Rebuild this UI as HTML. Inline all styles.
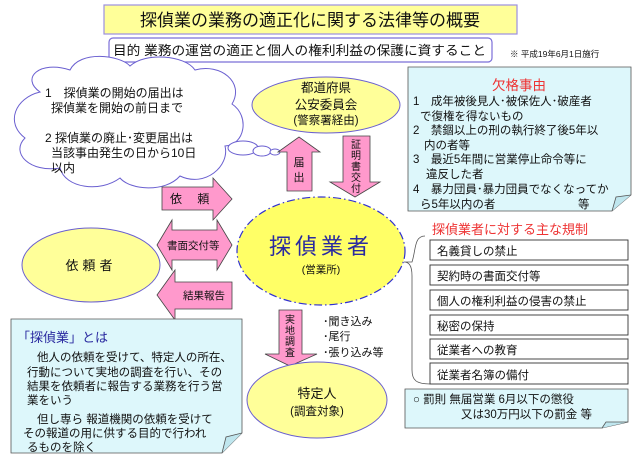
<!DOCTYPE html>
<html><head><meta charset="utf-8"><style>
body{margin:0;background:#fff;width:640px;height:457px;overflow:hidden}
svg{display:block}
text{font-family:"Liberation Sans","Noto Sans CJK JP",sans-serif;fill:#111}
</style></head><body>
<svg width="640" height="457" viewBox="0 0 640 457" xmlns="http://www.w3.org/2000/svg">
<!-- title -->
<rect x="104" y="5" width="413" height="29" fill="#ffff99" stroke="#9b8fe0" stroke-width="1.2"/>
<text x="310" y="26" font-size="17" text-anchor="middle">探偵業の業務の適正化に関する法律等の概要</text>
<rect x="109" y="38" width="383" height="24" rx="4" fill="#fff" stroke="#7b6fd8" stroke-width="1.2"/>
<text x="113" y="55" font-size="13" textLength="373" lengthAdjust="spacingAndGlyphs">目的  業務の運営の適正と個人の権利利益の保護に資すること</text>
<text x="510" y="57" font-size="8.5">※  平成19年6月1日施行</text>

<!-- cloud -->
<g fill="#fff" stroke="#6a5fd0" stroke-width="1">
<path d="M40,92 C20,78 40,60 70,70 C80,50 120,55 130,66 C145,52 185,55 195,70 C220,63 245,82 232,104 C250,116 245,145 225,146 C230,166 205,188 180,176 C165,193 130,190 120,178 C100,193 65,188 60,168 C30,173 10,153 25,138 C5,123 15,98 40,92 Z"/>
<ellipse cx="243" cy="148" rx="15" ry="7"/>
<ellipse cx="262" cy="151" rx="9" ry="5"/>
<ellipse cx="275" cy="152" rx="5" ry="3"/>
</g>
<g font-size="12">
<text x="45" y="97">1　探偵業の開始の届出は</text>
<text x="51" y="112">探偵業を開始の前日まで</text>
<text x="45" y="142">2  探偵業の廃止･変更届出は</text>
<text x="51" y="157">当該事由発生の日から10日</text>
<text x="51" y="172">以内</text>
</g>

<!-- police -->
<ellipse cx="326" cy="105" rx="74" ry="28" fill="#ffff99" stroke="#6a5fd0" stroke-width="1"/>
<g font-size="12.5" text-anchor="middle">
<text x="326" y="92">都道府県</text>
<text x="326" y="109">公安委員会</text>
<text x="326" y="124" font-size="11.5">(警察署経由)</text>
</g>

<!-- arrows -->
<g fill="#ff99cc" stroke="#444" stroke-width="0.8">
<path d="M287,191 L287,152 L278,152 L299,137 L320,152 L312,152 L312,191 Z"/>
<path d="M343,136 L370,136 L370,182 L380,182 L355,197 L330,182 L343,182 Z"/>
<path d="M162,187 L213,187 L213,178 L232,199 L213,220 L213,210 L162,210 Z"/>
<path d="M157,245 L172,220 L172,230 L217,230 L217,220 L232,245 L217,270 L217,260 L172,260 L172,270 Z"/>
<path d="M157,295 L175,270 L175,282 L232,282 L232,309 L175,309 L175,320 Z"/>
<path d="M279,310 L302,310 L302,354 L317,354 L290,366 L265,354 L279,354 Z"/>
</g>
<g font-size="11">
<text x="299" y="166" text-anchor="middle">届</text>
<text x="299" y="181" text-anchor="middle">出</text>
<g font-size="10" text-anchor="middle">
<text x="356" y="148">証</text><text x="356" y="159">明</text><text x="356" y="170">書</text><text x="356" y="181">交</text><text x="356" y="192">付</text>
<text x="290" y="323">実</text><text x="290" y="334">地</text><text x="290" y="345">調</text><text x="290" y="356">査</text>
</g>
<text x="170" y="203" font-size="12">依　 頼</text>
<text x="167" y="249" font-size="10.5">書面交付等</text>
<text x="183" y="299" font-size="10.5">結果報告</text>
</g>

<!-- central -->
<ellipse cx="321" cy="251" rx="84" ry="54" fill="#ffff66" stroke="#3030d0" stroke-width="1.2" stroke-dasharray="8,3,1.5,3"/>
<text x="321" y="254" font-size="22" text-anchor="middle" style="fill:#2a2aa0" letter-spacing="4">探偵業者</text>
<text x="321" y="273" font-size="10.5" text-anchor="middle">(営業所)</text>

<ellipse cx="91" cy="265" rx="69" ry="37" fill="#ffff99" stroke="#6a5fd0"/>
<text x="91" y="270" font-size="13" text-anchor="middle" letter-spacing="4">依頼者</text>

<ellipse cx="317" cy="400" rx="70" ry="38" fill="#ffff99" stroke="#6a5fd0"/>
<text x="317" y="398" font-size="13" text-anchor="middle">特定人</text>
<text x="317" y="415" font-size="11.5" text-anchor="middle">(調査対象)</text>

<g font-size="11">
<text x="323" y="325">･聞き込み</text>
<text x="323" y="340">･尾行</text>
<text x="323" y="356">･張り込み等</text>
</g>

<!-- definition box -->
<path d="M11,319 L242,319 L242,433 L222,453 L11,453 Z" fill="#ddf7fb" stroke="#555" stroke-width="0.8"/>
<path d="M222,453 L226,437 L242,433" fill="#bfe6ee" stroke="#555" stroke-width="0.8"/>
<text x="17" y="342" font-size="13" style="fill:#2a2aa0">「探偵業」とは</text>
<g font-size="11.5">
<text x="37" y="361">他人の依頼を受けて、特定人の所在、</text>
<text x="27" y="376">行動について実地の調査を行い、その</text>
<text x="27" y="390">結果を依頼者に報告する業務を行う営</text>
<text x="27" y="404">業をいう</text>
<text x="37" y="423">但し専ら 報道機関の依頼を受けて</text>
<text x="23" y="437">その報道の用に供する目的で行われ</text>
<text x="27" y="451">るものを除く</text>
</g>

<!-- 欠格事由 -->
<path d="M408,67 L631,67 L631,195 L612,211 L408,211 Z" fill="#ddf7fb" stroke="#555" stroke-width="0.8"/>
<path d="M612,211 L616,197 L631,195" fill="#bfe6ee" stroke="#555" stroke-width="0.8"/>
<text x="519" y="90" font-size="13.5" text-anchor="middle" style="fill:#ee3333">欠格事由</text>
<g font-size="11.5">
<text x="413" y="105">1　成年被後見人･被保佐人･破産者</text>
<text x="420" y="120">で復権を得ないもの</text>
<text x="413" y="134">2　禁錮以上の刑の執行終了後5年以</text>
<text x="424" y="149">内の者等</text>
<text x="413" y="163">3　最近5年間に営業停止命令等に</text>
<text x="426" y="178">違反した者</text>
<text x="413" y="193">4　暴力団員･暴力団員でなくなってか</text>
<text x="420" y="208">ら5年以内の者</text>
<text x="578" y="208">等</text>
</g>

<!-- regulations -->
<text x="432" y="234" font-size="13" style="fill:#ee3333">探偵業者に対する主な規制</text>
<path d="M425,236 C414,236 416,250 412,262 C408,262 408,262 404,262 C408,262 412,264 412,276 L412,370 C412,380 416,384 430,384" fill="none" stroke="#555" stroke-width="0.8"/>
<g fill="#fff" stroke="#333" stroke-width="0.9">
<rect x="430" y="240" width="198" height="20"/>
<rect x="430" y="265" width="198" height="20"/>
<rect x="430" y="290" width="198" height="20"/>
<rect x="430" y="315" width="198" height="20"/>
<rect x="430" y="339" width="198" height="20"/>
<rect x="430" y="363" width="198" height="21"/>
</g>
<g font-size="11.5">
<text x="437" y="255">名義貸しの禁止</text>
<text x="437" y="280">契約時の書面交付等</text>
<text x="437" y="305">個人の権利利益の侵害の禁止</text>
<text x="437" y="330">秘密の保持</text>
<text x="437" y="354">従業者への教育</text>
<text x="437" y="379">従業者名簿の備付</text>
</g>
<path d="M405,389 L628,389 L628,422 L602,428 L405,428 Z" fill="#ddf7fb" stroke="#555" stroke-width="0.8"/>
<path d="M602,428 L606,422 L628,422" fill="#bfe6ee" stroke="#555" stroke-width="0.8"/>
<g font-size="11.5">
<text x="413" y="403">○  罰則  無届営業  6月以下の懲役</text>
<text x="461" y="418">又は30万円以下の罰金  等</text>
</g>
</svg>
</body></html>
